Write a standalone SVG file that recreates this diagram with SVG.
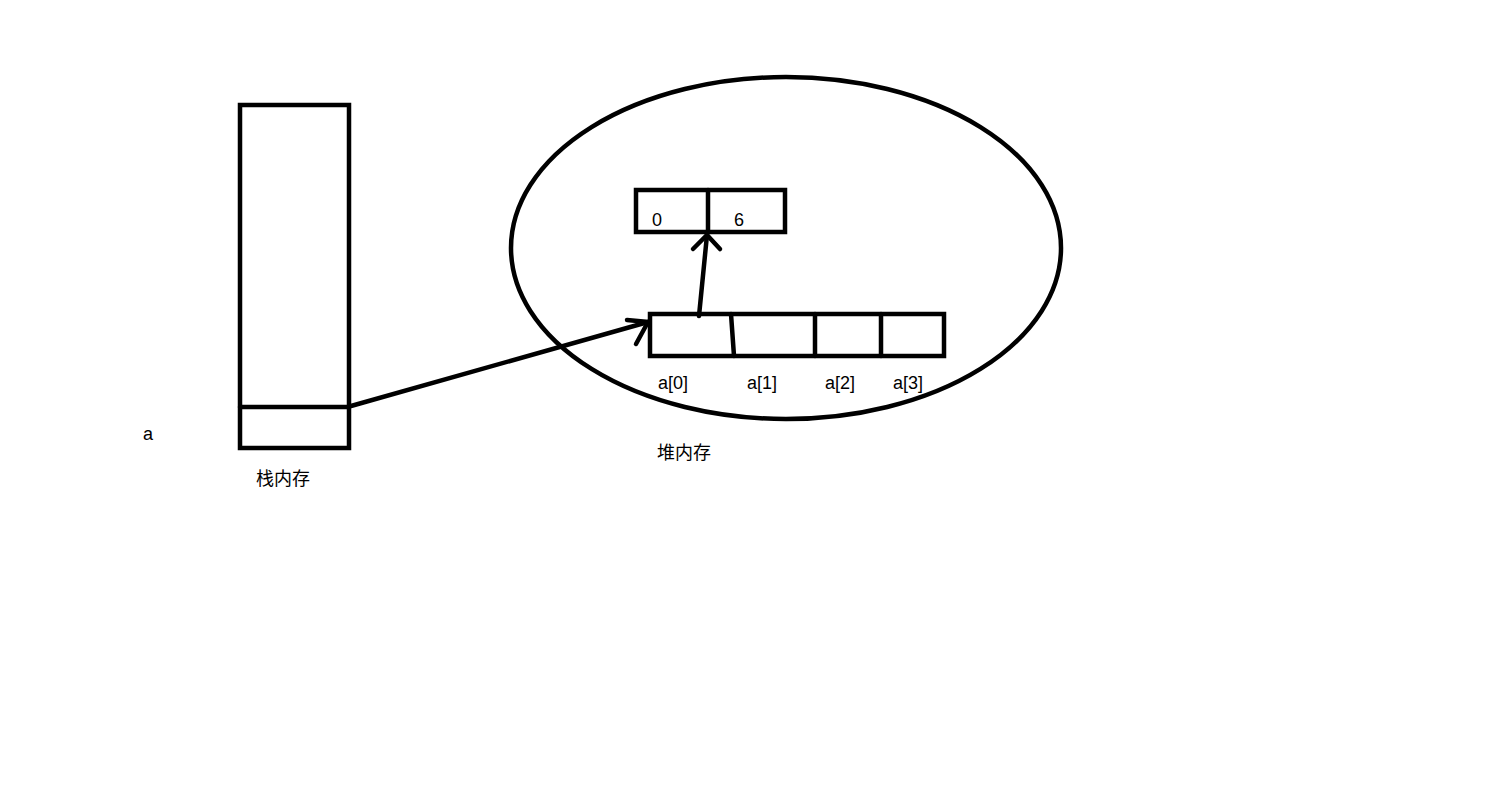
<svg xmlns="http://www.w3.org/2000/svg" width="1497" height="785" viewBox="0 0 1497 785">
<style>
.s{fill:none;stroke:#000;stroke-width:4.5;stroke-linecap:round;stroke-linejoin:miter}
.t{font-family:"Liberation Sans","Noto Sans CJK SC",sans-serif;font-size:18px;fill:#000}
</style>
<rect width="1497" height="785" fill="#fff"/>
<g id="stack">
<rect class="s" x="240" y="105" width="109" height="343"/>
<line class="s" x1="240" y1="407" x2="349" y2="407"/>
<text class="t" x="143" y="440">a</text>
<text class="t" x="256" y="485">栈内存</text>
</g>
<g id="heap">
<ellipse class="s" cx="786" cy="248" rx="275" ry="171"/>
<text class="t" x="657" y="459">堆内存</text>
</g>
<g id="obj">
<rect class="s" x="636" y="190" width="149" height="42"/>
<line class="s" x1="708" y1="190" x2="708" y2="232"/>
<text class="t" x="652" y="226">0</text>
<text class="t" x="734" y="226">6</text>
</g>
<g id="array">
<rect class="s" x="650" y="314" width="294" height="42"/>
<line class="s" x1="731" y1="314" x2="734" y2="356"/>
<line class="s" x1="815" y1="314" x2="815" y2="356"/>
<line class="s" x1="881" y1="314" x2="881" y2="356"/>
<text class="t" x="658" y="389">a[0]</text>
<text class="t" x="747" y="389">a[1]</text>
<text class="t" x="825" y="389">a[2]</text>
<text class="t" x="893" y="389">a[3]</text>
</g>
<g id="connectors">
<line class="s" x1="351" y1="406" x2="648" y2="322"/>
<polyline class="s" points="627,320 648,322 636,344"/>
<line class="s" x1="699" y1="316" x2="707" y2="235"/>
<polyline class="s" points="693,249 707,235 720,249"/>
</g>
</svg>
